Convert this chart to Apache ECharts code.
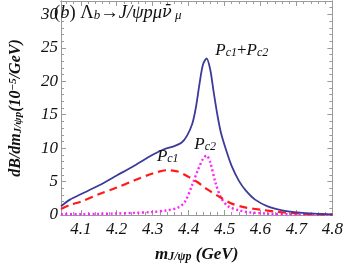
<!DOCTYPE html>
<html><head><meta charset="utf-8">
<script src="https://cdn.jsdelivr.net/npm/echarts@6/dist/echarts.min.js"></script>
<style>html,body{margin:0;padding:0;background:#fff}#c{width:346px;height:268px}</style>
</head><body><div id="c"></div>
<script>
// Total (Pc1+Pc2)
const totalX = [4.045,4.07,4.10,4.15,4.20,4.25,4.30,4.33,4.36,4.38,4.395,4.41,4.42,4.43,4.44,4.45,4.46,4.47,4.48,4.49,4.505,4.52,4.54,4.56,4.585,4.62,4.66,4.70,4.75,4.80];
const totalY = [1.3,2.3,3.1,4.4,5.9,7.4,9.0,9.8,10.3,10.8,11.8,13.6,16.0,19.5,22.5,23.4,21.8,18.3,15.0,12.3,9.6,7.3,5.1,3.6,2.3,1.3,0.7,0.4,0.2,0.1];
// Pc1 (red dashed)
const pc1X = [4.045,4.07,4.10,4.15,4.20,4.25,4.30,4.34,4.37,4.40,4.425,4.45,4.48,4.52,4.56,4.60,4.65,4.70,4.75,4.80];
const pc1Y = [0.9,1.5,2.0,3.1,4.1,5.2,6.2,6.7,6.5,5.7,4.9,3.9,2.9,1.7,1.1,0.8,0.45,0.25,0.12,0.05];
// Pc2 (magenta dotted)
const pc2X = [4.045,4.10,4.15,4.20,4.25,4.30,4.34,4.37,4.39,4.41,4.425,4.44,4.45,4.46,4.475,4.49,4.51,4.54,4.57,4.62,4.70,4.80];
const pc2Y = [0.1,0.12,0.17,0.22,0.32,0.45,0.7,1.1,2.0,4.5,6.6,8.4,8.9,7.9,4.8,2.6,1.3,0.7,0.4,0.2,0.1,0.05];

const xTicks = [4.1,4.2,4.3,4.4,4.5,4.6,4.7,4.8];
const yTicks = [0,5,10,15,20,25,30];

const X_MIN = 4.045, X_MAX = 4.8, Y_MIN = 0, Y_MAX = 32;
const xMinor = [];
for (let k = 203; k <= 240; k++) { const v = k * 0.02; if (v > X_MIN && v < X_MAX && Math.abs(v * 10 - Math.round(v * 10)) > 1e-6) xMinor.push(+v.toFixed(2)); }
const yMinor = [];
for (let v = 1; v < Y_MAX; v++) if (v % 5) yMinor.push(v);

const pairs = (xs, ys) => xs.map((x, i) => [x, ys[i]]);
const FONT = '"Liberation Serif", "DejaVu Serif", serif';
const frame = '#9a9a9a';

const richStyles = {
  n: {fontFamily: FONT, fontStyle: 'italic', fontSize: 17, color: '#111'},
  r: {fontFamily: FONT, fontStyle: 'normal', fontSize: 17, color: '#111'},
  s: {fontFamily: FONT, fontStyle: 'italic', fontSize: 12, color: '#111', verticalAlign: 'bottom', lineHeight: 4},
  tn: {fontFamily: FONT, fontStyle: 'italic', fontSize: 18.5, color: '#111'},
  tr: {fontFamily: FONT, fontStyle: 'normal', fontSize: 18.5, color: '#111'},
  tv: {fontFamily: '"DejaVu Serif", serif', fontStyle: 'italic', fontSize: 16, color: '#111'},
  ts: {fontFamily: FONT, fontStyle: 'italic', fontSize: 13, color: '#111', verticalAlign: 'bottom', lineHeight: 4}
};
const boldRich = (sz) => ({
  n: {fontFamily: FONT, fontStyle: 'italic', fontWeight: 'bold', fontSize: sz, color: '#111'},
  s: {fontFamily: FONT, fontStyle: 'italic', fontWeight: 'bold', fontSize: sz - 5, color: '#111', verticalAlign: 'bottom', lineHeight: 2},
  p: {fontFamily: FONT, fontStyle: 'italic', fontWeight: 'bold', fontSize: sz - 5, color: '#111', verticalAlign: 'top', lineHeight: 4}
});
const tickLabel = {fontFamily: FONT, fontStyle: 'italic', fontSize: 17, color: '#111'};

function xAx(pos, ticks, len, labels, extra) {
  return Object.assign({
    type: 'value', position: pos, min: X_MIN, max: X_MAX,
    axisLine: {show: true, onZero: false, lineStyle: {color: frame, width: 1}},
    axisTick: {show: true, inside: true, length: len, customValues: ticks, lineStyle: {color: frame}},
    splitLine: {show: false},
    axisLabel: labels ? {show: true, margin: 6, ...tickLabel, customValues: xTicks, formatter: v => v.toFixed(1)} : {show: false}
  }, extra || {});
}
function yAx(pos, ticks, len, labels, extra) {
  return Object.assign({
    type: 'value', position: pos, min: Y_MIN, max: Y_MAX,
    axisLine: {show: true, onZero: false, lineStyle: {color: frame, width: 1}},
    axisTick: {show: true, inside: true, length: len, customValues: ticks, lineStyle: {color: frame}},
    splitLine: {show: false},
    axisLabel: labels ? {show: true, margin: 3, ...tickLabel, customValues: yTicks, formatter: v => String(v)} : {show: false}
  }, extra || {});
}

const chart = echarts.init(document.getElementById('c'), null, {renderer: 'canvas'});
chart.setOption({
  animation: false,
  backgroundColor: '#fff',
  grid: {left: 51, right: 12, top: 1, bottom: 52, containLabel: false},
  xAxis: [
    xAx('bottom', xTicks, 5, true, {name: '{n|m}{s|J/ψp}{n| (GeV)}', nameLocation: 'middle', nameGap: 31, nameTextStyle: {rich: boldRich(17)}}),
    xAx('top', xTicks, 5, false),
    xAx('bottom', xMinor, 3, false),
    xAx('top', xMinor, 3, false)
  ],
  yAxis: [
    yAx('left', yTicks, 5, true, {name: '{n|dB/dm}{s|J/ψp}{n|(10}{p|−5}{n|/GeV)}', nameLocation: 'middle', nameGap: 37, nameRotate: 90, nameTextStyle: {rich: boldRich(16)}}),
    yAx('right', yTicks, 5, false),
    yAx('left', yMinor, 3, false),
    yAx('right', yMinor, 3, false)
  ],
  series: [{
    type: 'line', name: 'Pc1', data: pairs(pc1X, pc1Y), smooth: 0.3, showSymbol: false,
    lineStyle: {color: '#ff1a1a', width: 2.2, type: [8, 5]}, z: 3
  }, {
    type: 'line', name: 'Pc2', data: pairs(pc2X, pc2Y), smooth: 0.3, showSymbol: false,
    lineStyle: {color: '#ff22ff', width: 2.4, type: [2, 2.5]}, z: 2
  }, {
    type: 'line', name: 'Total', data: pairs(totalX, totalY), smooth: 0.3, showSymbol: false,
    lineStyle: {color: '#3b3b9a', width: 1.8}, z: 4,
    markPoint: {
      symbol: 'circle', symbolSize: 0, silent: true,
      label: {show: true, position: 'inside', rich: richStyles},
      data: [
        {coord: [4.048, 30.2], label: {align: 'left', offset: [-8, 0], formatter: '{tr|(}{tn|b}{tr|) Λ}{ts|b}{tr|→}{tn|J/ψpμ}{tv|ν\u0304}{ts| μ}'}},
        {coord: [4.548, 24.6], label: {formatter: '{n|P}{s|c1}{r|+}{n|P}{s|c2}'}},
        {coord: [4.342, 8.8], label: {formatter: '{n|P}{s|c1}'}},
        {coord: [4.446, 10.6], label: {formatter: '{n|P}{s|c2}'}}
      ]
    }
  }]
});
</script></body></html>
